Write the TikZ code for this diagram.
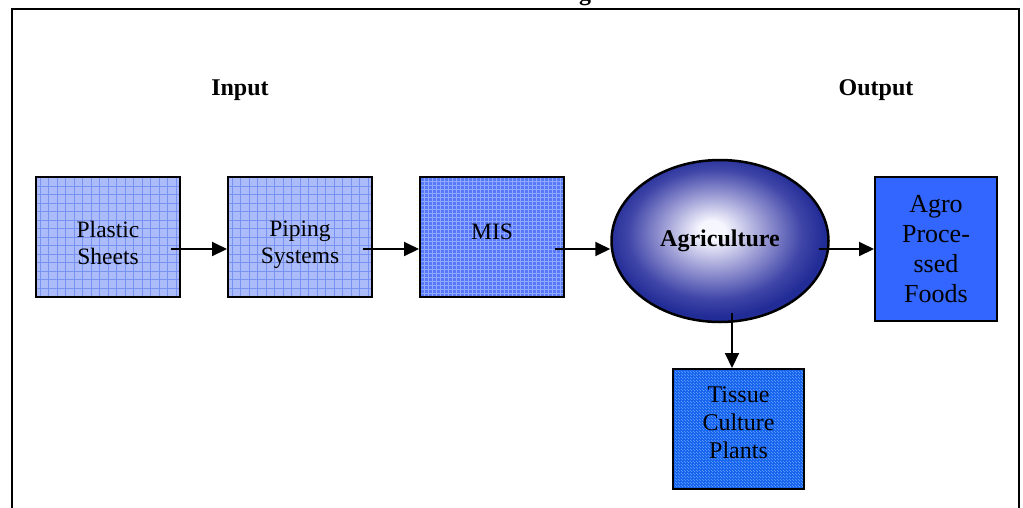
\documentclass[tikz,border=0pt]{standalone}
\usepackage{fontspec}
\setmainfont{Liberation Serif}
\usetikzlibrary{arrows.meta,shapes.geometric}
\definecolor{lightfill}{RGB}{172,188,250}
\definecolor{lightgrid}{RGB}{120,146,242}
\definecolor{misfill}{RGB}{88,120,250}
\definecolor{misgrid}{RGB}{145,168,255}
\definecolor{agrofill}{RGB}{51,102,255}
\definecolor{tissuefill}{RGB}{24,102,238}
\definecolor{tissuedot}{RGB}{90,150,250}
\definecolor{agrilight}{RGB}{246,246,255}
\definecolor{agrimid}{RGB}{150,150,210}
\definecolor{agrideep}{RGB}{64,70,168}
\definecolor{agridark}{RGB}{34,44,150}
\pgfdeclareradialshading{agrishade}{\pgfpoint{-2bp}{3.5bp}}{color(0bp)=(agrilight); color(3bp)=(agrilight); color(12bp)=(agrimid); color(20bp)=(agrideep); color(25bp)=(agridark); color(50bp)=(agridark)}
\tikzset{
  boxbase/.style={draw=black, line width=2pt, rectangle, inner sep=0pt},
  lightbox/.style={boxbase, fill=lightfill, minimum width=144pt, minimum height=120pt,
    path picture={\draw[lightgrid, line width=0.7pt, step=8.5pt] (path picture bounding box.south west) grid (path picture bounding box.north east);}},
  misbox/.style={boxbase, fill=misfill, minimum width=144pt, minimum height=120pt,
    path picture={\draw[misgrid, line width=0.4pt, step=4pt] (path picture bounding box.south west) grid (path picture bounding box.north east);}},
  agrobox/.style={boxbase, fill=agrofill, minimum width=122pt, minimum height=144pt},
  tissuebox/.style={boxbase, fill=tissuefill, minimum width=131pt, minimum height=120pt,
    path picture={\draw[tissuedot, line width=0.5pt, dash pattern=on 1pt off 2pt, step=3pt] (path picture bounding box.south west) grid (path picture bounding box.north east);}},
  boxtext/.style={font=\fontsize{23.5}{27}\selectfont, align=center},
  agrotext/.style={font=\fontsize{26}{30}\selectfont, align=center},
  tissuetext/.style={font=\fontsize{24}{28}\selectfont, align=center},
  headtext/.style={font=\bfseries\fontsize{24}{28}\selectfont},
  arr/.style={line width=2pt, -{Triangle[length=15pt,width=14pt]}},
}
\begin{document}
\begin{tikzpicture}[x=1pt,y=-1pt]
\useasboundingbox (0,0) rectangle (1023,507);
\clip (0,0) rectangle (1023,507);
\fill[white] (0,0) rectangle (1023,507);
% frame
\draw[line width=2pt] (12,510) -- (12,9) -- (1019,9) -- (1019,510);
% title (clipped at the top edge, as in the reference)
\node[headtext, anchor=base, inner sep=0pt] (title) at (585,0) {g};
% headings
\node[headtext] (input) at (240,90) {Input};
\node[headtext] (output) at (876,90) {Output};
% boxes
\node[lightbox, label={[boxtext, yshift=-6pt]center:Plastic\\Sheets}] (plastic) at (108,237) {};
\node[lightbox, label={[boxtext, yshift=-8pt]center:Piping\\Systems}] (piping) at (300,237) {};
\node[misbox, label={[boxtext, yshift=5pt]center:MIS}] (mis) at (492,237) {};
\node[ellipse, draw=black, line width=2.5pt, shading=agrishade, minimum width=217pt, minimum height=162pt, inner sep=0pt, headtext] (agri) at (720,241) {Agriculture};
\node[agrobox, label={[agrotext]center:Agro\\Proce-\\ssed\\Foods}] (agro) at (936,249) {};
\node[tissuebox, label={[tissuetext, yshift=6pt]center:Tissue\\Culture\\Plants}] (tissue) at (738.5,429) {};
% connectors
\draw[arr] ([xshift=-10pt,yshift=-12pt]plastic.east) -- ([yshift=-12pt]piping.west);
\draw[arr] ([xshift=-10pt,yshift=-12pt]piping.east) -- ([yshift=-12pt]mis.west);
\draw[arr] ([xshift=-10pt,yshift=-12pt]mis.east) -- ([yshift=-8pt]agri.west);
\draw[arr] ([xshift=-11pt,yshift=-8pt]agri.east) -- (agro.west);
\coordinate (dstart) at ([xshift=12pt,yshift=10pt]agri.south);
\draw[arr] (dstart) -- (dstart |- tissue.north);
\end{tikzpicture}
\end{document}
